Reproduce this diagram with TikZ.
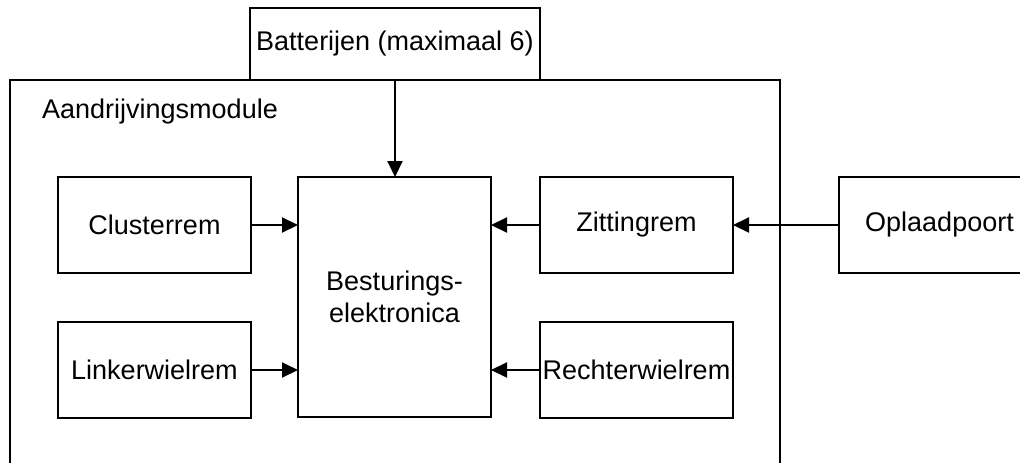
\documentclass[tikz,border=0pt]{standalone}
\usepackage{fontspec}
\setmainfont{Liberation Sans}
\usetikzlibrary{arrows.meta}
\begin{document}
\begin{tikzpicture}[x=1pt,y=-1pt,
  box/.style={draw=black,line width=2pt,rectangle,inner sep=0pt,outer sep=0pt,
    minimum width=193pt,minimum height=96pt,align=center,
    font=\fontsize{27}{32}\selectfont},
  arr/.style={line width=2pt,-{Triangle[length=16pt,width=15pt]}}]
\useasboundingbox (0,0) rectangle (1020,463);
\clip (0,0) rectangle (1020,463);
\node[box,minimum width=770pt,minimum height=420pt] (module) at (395,290) {};
\node[anchor=base west,inner sep=0pt,font=\fontsize{27}{32}\selectfont] (modlabel) at (42,118) {Aandrijvingsmodule};
\node[box,minimum width=290pt,minimum height=72pt,fill=white] (battery) at (395,44) {Batterijen (maximaal 6)};
\node[box,minimum height=240pt] (besturing) at (394.5,297) {Besturings-\\elektronica};
\node[box] (cluster) at (154.5,225) {Clusterrem};
\node[box] (linker) at (154.5,370) {Linkerwielrem};
\node[box] (zitting) at (636.5,225) {Zittingrem};
\node[box] (rechter) at (636.5,370) {Rechterwielrem};
\node[box,minimum width=201pt] (oplaad) at (939.5,225) {Oplaadpoort};
\draw[arr] (battery.south) -- (battery.south |- besturing.north);
\draw[arr] (cluster.east) -- (cluster.east -| besturing.west);
\draw[arr] (linker.east) -- (linker.east -| besturing.west);
\draw[arr] (zitting.west) -- (zitting.west -| besturing.east);
\draw[arr] (rechter.west) -- (rechter.west -| besturing.east);
\draw[arr] (oplaad.west) -- (zitting.east);
\end{tikzpicture}
\end{document}
